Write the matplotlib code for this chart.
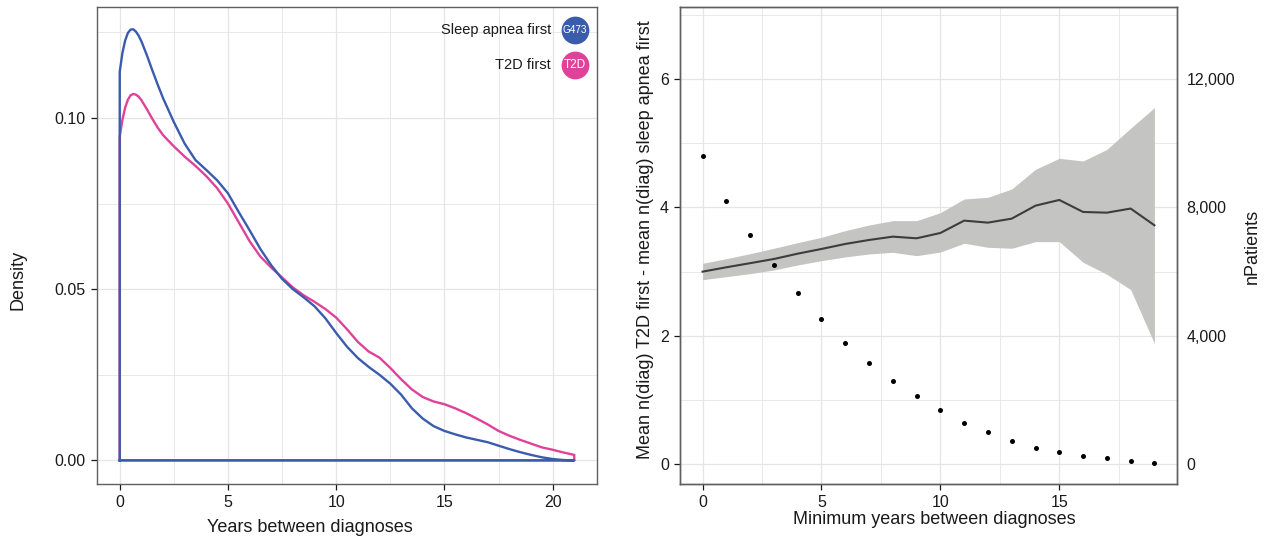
import matplotlib
matplotlib.use("Agg")
import matplotlib.pyplot as plt
from matplotlib.ticker import FuncFormatter, MultipleLocator

plt.rcParams['font.family'] = ['Liberation Sans', 'DejaVu Sans']

# ---------------- Left panel data: density curves ----------------
dens_x = [0, 0.125, 0.25, 0.375, 0.5, 0.625, 0.75, 0.875, 1.0, 1.25, 1.5, 1.75, 2.0,
          2.5, 3.0, 3.5, 4.0, 4.5, 5.0, 5.5, 6.0,
          6.5, 7.0, 7.5, 8.0, 8.5, 9.0, 9.5, 10.0, 10.5, 11.0, 11.5, 12.0, 12.5, 13.0,
          13.5, 14.0, 14.5, 15.0, 15.5, 16.0, 16.5, 17.0, 17.5, 18.0, 18.5, 19.0, 19.5,
          20.0, 20.5, 21.0]
sleep_first = [0.1135, 0.1190, 0.1226, 0.1248, 0.1258, 0.1259, 0.1252, 0.1240, 0.1224,
               0.1184, 0.1140, 0.1098, 0.1058, 0.0988, 0.0925,
               0.0877, 0.0848, 0.0818, 0.0780, 0.0725, 0.0672, 0.0617, 0.0570, 0.0530,
               0.0500, 0.0476, 0.0450, 0.0415, 0.0372, 0.0332, 0.0299, 0.0273, 0.0250,
               0.0224, 0.0192, 0.0152, 0.0122, 0.0100, 0.0086, 0.0076, 0.0067, 0.0060,
               0.0053, 0.0043, 0.0033, 0.0024, 0.0016, 0.0009, 0.0004, 0.0001, 0.0]
t2d_first = [0.0946, 0.0995, 0.1030, 0.1053, 0.1066, 0.1070, 0.1068, 0.1062, 0.1052,
             0.1026, 0.0998, 0.0972, 0.0950, 0.0917, 0.0887,
             0.0860, 0.0830, 0.0795, 0.0750, 0.0695, 0.0640, 0.0595, 0.0563, 0.0534,
             0.0505, 0.0482, 0.0463, 0.0442, 0.0417, 0.0383, 0.0346, 0.0318, 0.0300,
             0.0270, 0.0237, 0.0207, 0.0185, 0.0172, 0.0164, 0.0152, 0.0138, 0.0122,
             0.0105, 0.0086, 0.0072, 0.0060, 0.0049, 0.0038, 0.0031, 0.0023, 0.0016]
legend_labels = ["Sleep apnea first", "T2D first"]
legend_badges = ["G473", "T2D"]

# ---------------- Right panel data ----------------
min_years = list(range(20))
mean_diff = [2.998, 3.066, 3.13, 3.195, 3.278, 3.351, 3.429, 3.491, 3.543, 3.517,
             3.600, 3.792, 3.761, 3.823, 4.025, 4.114, 3.927, 3.916, 3.98, 3.72]
diff_upper = [3.128, 3.20, 3.278, 3.362, 3.449, 3.533, 3.636, 3.724, 3.792, 3.792,
              3.916, 4.129, 4.155, 4.285, 4.591, 4.762, 4.72, 4.90, 5.23, 5.55]
diff_lower = [2.873, 2.92, 2.967, 3.024, 3.102, 3.169, 3.227, 3.273, 3.299, 3.247,
              3.304, 3.440, 3.377, 3.362, 3.465, 3.465, 3.144, 2.957, 2.72, 1.88]
n_patients = [9588, 8196, 7147, 6194, 5332, 4514, 3776, 3153, 2602, 2126,
              1681, 1286, 1015, 716, 517, 383, 268, 187, 112, 50]

BLUE = "#3B5CAD"
PINK = "#E0429A"
GRID = "#E5E5E5"
FRAME = "#5F5F5F"
TXT = "#1A1A1A"
TICK_FS = 11.5
TITLE_FS = 13

W, H = 1265, 539
fig = plt.figure(figsize=(W / 100, H / 100), dpi=100)


def px_axes(x0, y0, x1, y1):
    return fig.add_axes([x0 / W, 1 - y1 / H, (x1 - x0) / W, (y1 - y0) / H])


def style(ax):
    for s in ax.spines.values():
        s.set_color(FRAME)
        s.set_linewidth(1.0)
    ax.grid(True, which='major', color=GRID, linewidth=0.9)
    ax.grid(True, which='minor', color=GRID, linewidth=0.6)
    ax.set_axisbelow(True)
    ax.tick_params(which='major', length=4, width=0.9, color=TXT, labelsize=TICK_FS,
                   labelcolor=TXT, pad=4)
    ax.tick_params(which='minor', length=0)


# ---------------- Left panel ----------------
ax1 = px_axes(97, 7, 597, 484)
style(ax1)
for ys, col in ((t2d_first, PINK), (sleep_first, BLUE)):
    xs = [dens_x[0]] + dens_x + [dens_x[-1], dens_x[0]]
    yy = [0] + ys + [0, 0]
    ax1.plot(xs, yy, color=col, linewidth=1.7, solid_joinstyle='round')
ax1.set_xlim(-1.05, 22.05)
ax1.set_ylim(-0.0069, 0.1324)
ax1.xaxis.set_major_locator(MultipleLocator(5))
ax1.xaxis.set_minor_locator(MultipleLocator(2.5))
ax1.set_yticks([0, 0.05, 0.10])
ax1.set_yticklabels(["0.00", "0.05", "0.10"])
ax1.yaxis.set_minor_locator(MultipleLocator(0.025))
ax1.set_xlabel("Years between diagnoses", fontsize=TITLE_FS, color=TXT)
ax1.set_ylabel("Density", fontsize=TITLE_FS, color=TXT)
ax1.xaxis.set_label_coords((310 - 97) / 500, -(528 - 484) / 477, transform=ax1.transAxes)
ax1.xaxis.label.set_va('center')
ax1.yaxis.set_label_coords(-(97 - 18) / 500, (484 - 280) / 477, transform=ax1.transAxes)
ax1.yaxis.label.set_va('center')

# legend with badges
for i, (lab, badge, col) in enumerate(zip(legend_labels, legend_badges, (BLUE, PINK))):
    yfrac = 1 - (30 + 35 * i - 7) / 477
    xc = (575 - 97) / 500
    ax1.scatter([xc], [yfrac], s=400, color=col, transform=ax1.transAxes,
                zorder=5, clip_on=False, linewidths=0)
    ax1.text(xc, yfrac, badge, transform=ax1.transAxes, color="white",
             fontsize=7.2 if len(badge) > 3 else 8.5, ha='center', va='center', zorder=6)
    ax1.text((551 - 97) / 500, yfrac, lab, transform=ax1.transAxes, color=TXT,
             fontsize=10.5, ha='right', va='center', zorder=6)

# ---------------- Right panel ----------------
ax2 = px_axes(680, 7, 1177, 484)
style(ax2)
ax2.fill_between(min_years, diff_lower, diff_upper, color="#C4C4C3", linewidth=0)
ax2.plot(min_years, mean_diff, color="#3D3D3D", linewidth=1.5)
ax2.set_xlim(-0.95, 19.95)
y_lo, y_hi = -0.307, 7.117
ax2.set_ylim(y_lo, y_hi)
ax2.xaxis.set_major_locator(MultipleLocator(5))
ax2.xaxis.set_minor_locator(MultipleLocator(2.5))
ax2.set_yticks([0, 2, 4, 6])
ax2.yaxis.set_minor_locator(MultipleLocator(1))
ax2.set_xlabel("Minimum years between diagnoses", fontsize=TITLE_FS, color=TXT)
ax2.set_ylabel("Mean n(diag) T2D first - mean n(diag) sleep apnea first",
               fontsize=TITLE_FS, color=TXT)
ax2.xaxis.set_label_coords((934.5 - 680) / 497, -(520 - 484) / 477, transform=ax2.transAxes)
ax2.xaxis.label.set_va('center')
ax2.yaxis.set_label_coords(-(680 - 645) / 497, (484 - 240) / 477, transform=ax2.transAxes)
ax2.yaxis.label.set_va('center')

ax3 = ax2.twinx()
ax3.set_ylim(y_lo * 2000, y_hi * 2000)
ax3.scatter(min_years, n_patients, s=13, color="black", zorder=4, linewidths=0)
ax3.set_yticks([0, 4000, 8000, 12000])
ax3.yaxis.set_major_formatter(FuncFormatter(lambda v, p: f"{int(v):,}"))
ax3.tick_params(axis='y', length=0, labelsize=TICK_FS, labelcolor=TXT, pad=7)
ax3.set_ylabel("nPatients", fontsize=TITLE_FS, color=TXT)
ax3.yaxis.set_label_coords(1 + (1252 - 1177) / 497, (484 - 246) / 477, transform=ax3.transAxes)
ax3.yaxis.label.set_va('center')
ax3.grid(False)
for s in ax3.spines.values():
    s.set_color(FRAME)
    s.set_linewidth(1.0)

fig.savefig("out.png", dpi=100)
